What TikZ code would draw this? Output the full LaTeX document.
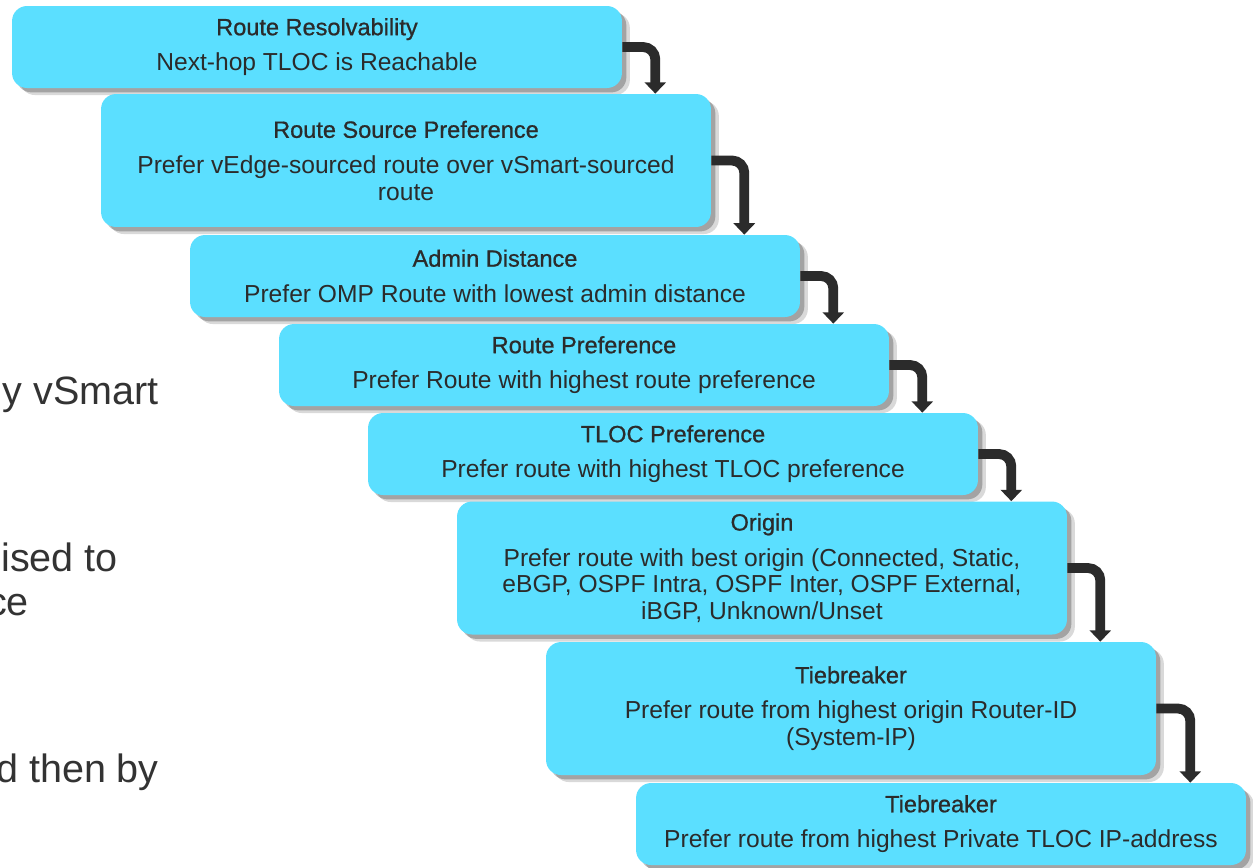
\documentclass[tikz,border=0pt]{standalone}
\usepackage{fontspec}
\setmainfont{Liberation Sans}
\newfontfamily\headfont[FakeBold=0.8]{Liberation Sans}
\usetikzlibrary{arrows.meta,shadows,calc}

\definecolor{stepcyan}{RGB}{91,223,255}
\definecolor{inkgray}{RGB}{43,43,43}
\definecolor{sidegray}{RGB}{51,51,51}

\newcommand{\steptext}[2]{{\headfont\fontsize{13.4}{15}\selectfont #1}\\[5pt]#2}

\tikzset{
  stepbox/.style={fill=stepcyan, rounded corners=0.3cm, minimum width=12.2cm,
    minimum height=1.64cm, inner sep=0pt, align=center, text=inkgray,
    font=\fontsize{14}{15.2}\selectfont,
    drop shadow={shadow xshift=2.5pt, shadow yshift=-2.5pt, fill=black, opacity=.25},
    drop shadow={shadow xshift=4.5pt, shadow yshift=-4pt, fill=black, opacity=.15}},
  tallbox/.style={stepbox, minimum height=2.66cm},
  flow/.style={line width=5.6pt, draw=inkgray, rounded corners=7pt,
    -{Triangle[width=12pt,length=6.5pt]}},
  sidetext/.style={anchor=base east, text=sidegray, font=\fontsize{22.5}{27}\selectfont}
}

\begin{document}
\begin{tikzpicture}[x=0.02cm, y=-0.02cm]
  \useasboundingbox (0,0) rectangle (1253,867);
  \clip (0,0) rectangle (1253,867);

  % text running in from the left
  \node[sidetext] (s1) at (165,404) {y vSmart};
  \node[sidetext] (s2) at (124,571) {ised to};
  \node[sidetext] (s3) at (35,615) {ce};
  \node[sidetext] (s4) at (165,782) {d then by};

  % the selection steps
  \node[stepbox] (res) at (317,47) {\steptext{Route Resolvability}{Next-hop TLOC is Reachable}};
  \node[tallbox] (src) at (406,160.5) {\steptext{Route Source Preference}{Prefer vEdge-sourced route over vSmart-sourced\\route}};
  \node[stepbox] (ad) at (495,276) {\steptext{Admin Distance}{Prefer OMP Route with lowest admin distance}};
  \node[stepbox] (rpref) at (584,365) {\steptext{Route Preference}{Prefer Route with highest route preference}};
  \node[stepbox] (tloc) at (673,454) {\steptext{TLOC Preference}{Prefer route with highest TLOC preference}};
  \node[tallbox] (orig) at (762,568) {\steptext{Origin}{Prefer route with best origin (Connected, Static,\\eBGP, OSPF Intra, OSPF Inter, OSPF External,\\iBGP, Unknown/Unset}};
  \node[tallbox] (tb1) at (851,708.5) {\steptext{Tiebreaker}{Prefer route from highest origin Router-ID\\(System-IP)}};
  \node[stepbox] (tb2) at (941,824) {\steptext{Tiebreaker}{Prefer route from highest Private TLOC IP-address}};

  % elbow arrows down the staircase
  \draw[flow] (res.east) -| ($(src.north east)+(-56,0)$);
  \draw[flow] (src.east) -| ($(ad.north east)+(-56,0)$);
  \draw[flow] (ad.east) -| ($(rpref.north east)+(-56,0)$);
  \draw[flow] (rpref.east) -| ($(tloc.north east)+(-56,0)$);
  \draw[flow] (tloc.east) -| ($(orig.north east)+(-56,0)$);
  \draw[flow] (orig.east) -| ($(tb1.north east)+(-56,0)$);
  \draw[flow] (tb1.east) -| ($(tb2.north east)+(-56,0)$);
\end{tikzpicture}
\end{document}
